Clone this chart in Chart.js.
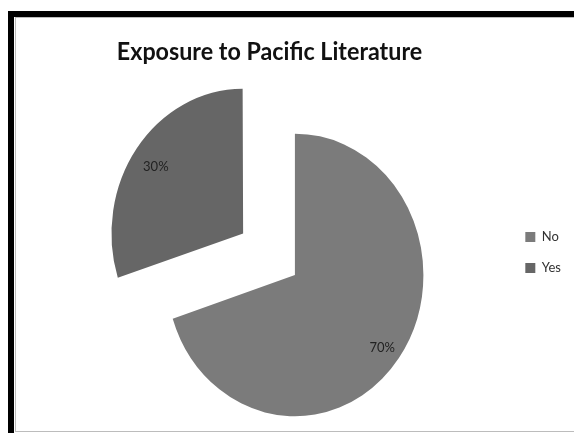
<!DOCTYPE html>
<html>
<head>
<meta charset="utf-8">
<script src="https://cdn.jsdelivr.net/npm/chart.js@4"></script>
<style>
  html, body { margin: 0; padding: 0; background: #fff; }
  #wrap { position: relative; width: 574px; height: 433px; overflow: hidden; }
  #outer { position: absolute; left: 8px; top: 11px; width: 600px; height: 500px;
           border-left: 6px solid #000; border-top: 6px solid #000; }
  #inner { position: absolute; left: 15px; top: 17px; width: 600px; height: 413px;
           border-left: 1px solid #bcbcbc; border-top: 1px solid #bcbcbc; border-bottom: 1px solid #bcbcbc; }
  #box { position: absolute; left: 0; top: 0; width: 574px; height: 433px; }
</style>
</head>
<body>
<div id="wrap">
  <div id="outer"></div>
  <div id="inner"></div>
  <div id="box"><canvas id="grafica"></canvas></div>
</div>
<script>
const chartTitle = 'Exposure to Pacific Literature';
const categories = ['No', 'Yes'];
const percentValues = [70, 30];

// the picture is a bit stretched vertically
const stretchY = 1.1;

const ellipse = {
  id: 'ellipse',
  beforeDatasetsDraw(chart) {
    const a = chart.chartArea;
    const cx = (a.left + a.right) / 2, cy = (a.top + a.bottom) / 2;
    const ctx = chart.ctx;
    ctx.save();
    ctx.translate(cx, cy);
    ctx.scale(1, stretchY);
    ctx.translate(-cx, -cy);
  },
  afterDatasetsDraw(chart) {
    chart.ctx.restore();
  }
};

const pctLabels = {
  id: 'pctLabels',
  afterDatasetsDraw(chart) {
    const ctx = chart.ctx;
    const meta = chart.getDatasetMeta(0);
    const data = chart.data.datasets[0].data;
    const total = data.reduce((s, v) => s + v, 0);
    ctx.save();
    ctx.font = '13px Lato';
    ctx.fillStyle = '#222';
    ctx.textAlign = 'center';
    ctx.textBaseline = 'middle';
    meta.data.forEach((arc, i) => {
      const mid = (arc.startAngle + arc.endAngle) / 2;
      const off = (arc.options.offset || 0) / 4;
      const d = off + arc.outerRadius * 0.84;
      const x = arc.x + Math.cos(mid) * d;
      const y = arc.y + Math.sin(mid) * d * stretchY + 3;
      ctx.fillText(Math.round(data[i] / total * 100) + '%', x, y);
    });
    ctx.restore();
  }
};

const titleText = {
  id: 'titleText',
  afterDraw(chart) {
    const ctx = chart.ctx;
    ctx.save();
    ctx.translate(269.5, 60);
    ctx.scale(1, stretchY);
    ctx.font = 'bold 23.3px Lato';
    ctx.fillStyle = '#111';
    ctx.textAlign = 'center';
    ctx.textBaseline = 'alphabetic';
    ctx.fillText(chartTitle, 0, 0);
    ctx.restore();
  }
};

const $grafica = document.querySelector('#grafica');

new Chart($grafica, {
  type: 'pie',
  data: {
    labels: categories,
    datasets: [{
      data: percentValues,
      backgroundColor: ['#7b7b7b', '#666666'],
      borderWidth: 0,
      offset: [0, 256],
      radius: 128.5,
      cutout: '0%',
      clip: false
    }]
  },
  options: {
    responsive: true,
    maintainAspectRatio: false,
    animation: false,
    layout: { padding: { left: 82.5, right: 3, top: 212.5, bottom: 95.5 } },
    plugins: {
      tooltip: { enabled: false },
      legend: {
        position: 'right',
        align: 'start',
        labels: {
          boxWidth: 10,
          boxHeight: 10,
          padding: 18,
          color: '#333',
          font: { family: 'Lato', size: 13 }
        }
      }
    }
  },
  plugins: [ellipse, pctLabels, titleText]
});
</script>
</body>
</html>
